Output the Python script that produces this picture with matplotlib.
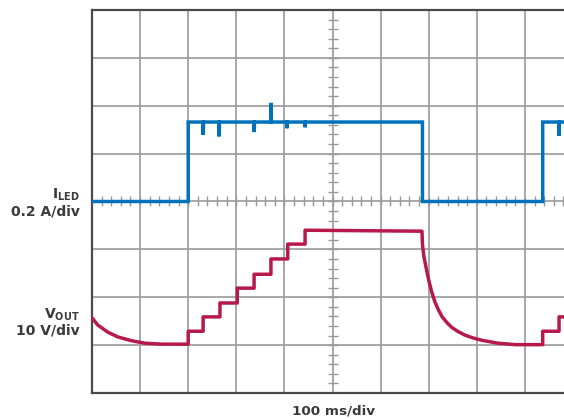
import numpy as np
import matplotlib
matplotlib.use("Agg")
import matplotlib.pyplot as plt

# scope traces in divisions (x: 100 ms/div, y: grid units)
ILED_T = [0, 2.0, 2.0, 2.31, 2.31, 2.32, 2.64, 2.64, 2.65, 3.37, 3.37, 3.38,
          3.72, 3.72, 3.73, 4.05, 4.05, 4.06, 4.43, 4.43, 4.44, 6.87, 6.87,
          9.37, 9.37, 9.71, 9.71, 9.72, 10.0]
ILED_V = [4.0, 4.0, 5.66, 5.66, 5.39, 5.66, 5.66, 5.36, 5.66, 5.66, 5.45, 5.66,
          5.66, 6.06, 5.66, 5.66, 5.53, 5.66, 5.66, 5.55, 5.66, 5.66, 4.0,
          4.0, 5.66, 5.66, 5.37, 5.66, 5.66]

VOUT_T = [0, 0.12, 0.33, 0.54, 0.83, 1.10, 1.46, 2.0, 2.0, 2.31, 2.31, 2.66, 2.66,
          3.02, 3.02, 3.37, 3.37, 3.72, 3.72, 4.07, 4.07, 4.43, 4.43, 6.86,
          6.87, 6.90, 6.95, 7.00, 7.06, 7.13, 7.20, 7.28, 7.38, 7.48, 7.60,
          7.75, 7.92, 8.11, 8.44, 8.80, 9.37, 9.37, 9.71, 9.71, 10.0]
VOUT_V = [1.57, 1.42, 1.27, 1.17, 1.09, 1.04, 1.02, 1.02, 1.29, 1.29, 1.59, 1.59, 1.88,
          1.88, 2.19, 2.19, 2.48, 2.48, 2.80, 2.80, 3.11, 3.11, 3.40, 3.38,
          3.10, 2.85, 2.60, 2.36, 2.12, 1.90, 1.74, 1.59, 1.47, 1.37, 1.29,
          1.21, 1.15, 1.10, 1.04, 1.01, 1.01, 1.29, 1.29, 1.59, 1.59]

BLUE = "#0071bb"
RED = "#b8194b"
GRID = "#9a9a9a"
FRAME = "#4a4a4a"
TXT = "#3a3a3a"

W, H = 564, 419
fig = plt.figure(figsize=(W / 100, H / 100), dpi=100)
ax = fig.add_axes([92 / W, 26 / H, 481 / W, 383 / H])
ax.set_xlim(0, 10)
ax.set_ylim(0, 8)
ax.set_xticks([]); ax.set_yticks([])
for s in ax.spines.values():
    s.set_color(FRAME); s.set_linewidth(1.6)

for gx in range(1, 10):
    ax.axvline(gx, color=GRID, lw=1.2, zorder=1)
for gy in range(1, 8):
    ax.axhline(gy, color=GRID, lw=1.2, zorder=1)

# minor ticks on the centre cross
mx = np.arange(0.2, 10, 0.2)
ax.plot(mx, np.full(len(mx), 4.0), ls="", marker="|", ms=7, mew=1.0, color=GRID, zorder=1)
my = np.arange(0.2, 8, 0.2)
ax.plot(np.full(len(my), 5.0), my, ls="", marker="_", ms=7, mew=1.0, color=GRID, zorder=1)

ax.plot(ILED_T, ILED_V, color=BLUE, lw=2.5, solid_joinstyle="miter", zorder=3)
ax.plot(VOUT_T, VOUT_V, color=RED, lw=2.5, solid_joinstyle="round", zorder=3)

def ft(x, y, s, **kw):
    fig.text(x / W, 1 - y / H, s, color=TXT, fontweight="bold", **kw)

ft(80, 195, r"$\mathbf{I}_{\mathbf{LED}}$", fontsize=10, ha="right", va="center")
ft(80, 211, "0.2 A/div", fontsize=10, ha="right", va="center")
ft(80, 315, r"$\mathbf{V}_{\mathbf{OUT}}$", fontsize=10, ha="right", va="center")
ft(80, 330, "10 V/div", fontsize=10, ha="right", va="center")
ft(333, 411, "100 ms/div", fontsize=9.7, ha="center", va="center")

fig.savefig("out.png", dpi=100)
